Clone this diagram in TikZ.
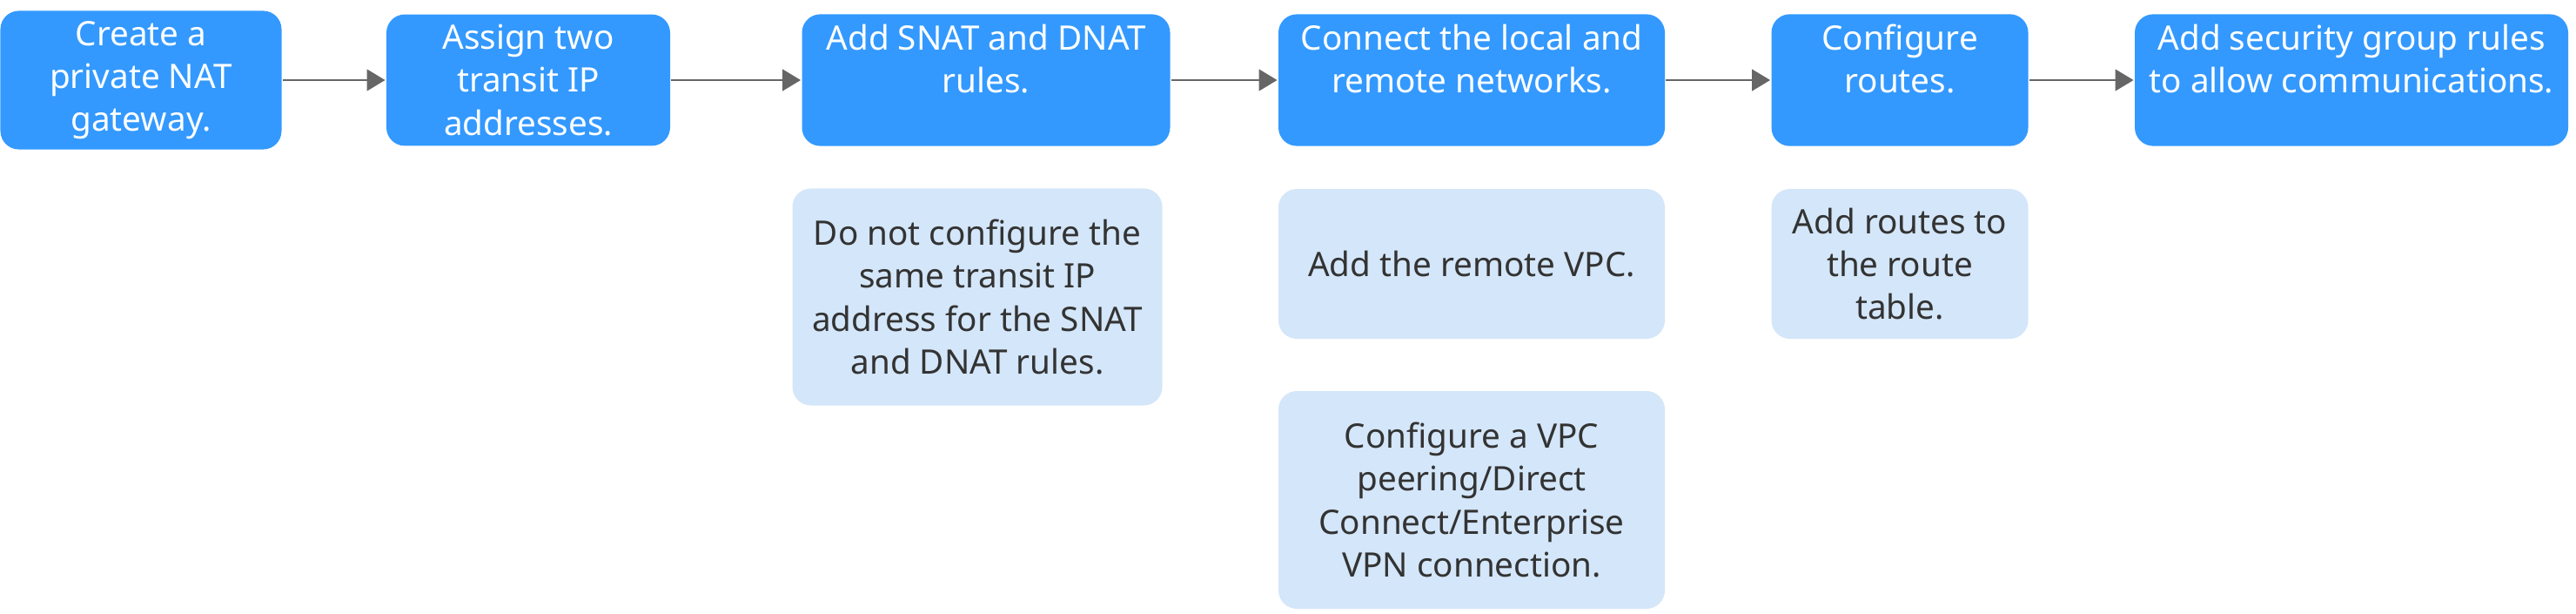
\documentclass[tikz,border=0pt]{standalone}
\usepackage{fontspec}
\setmainfont{Noto Sans}
\usetikzlibrary{positioning}
\usetikzlibrary{arrows.meta}

\begin{document}
\begin{tikzpicture}[>={Triangle[length=6pt,width=7pt]},thick,
	step node/.style={draw=none,fill=stepblue,text=white,rounded corners=6pt,align=center,font=\fontsize{11}{14}\selectfont},
	note node/.style={draw=none,fill=noteblue,text=notegray,rounded corners=6pt,align=center,font=\fontsize{11}{14}\selectfont}]
	
	\definecolor{stepblue}{RGB}{51,153,255}
	\definecolor{noteblue}{RGB}{212,230,249}
	\definecolor{notegray}{RGB}{51,51,51}
	\definecolor{arrowgray}{RGB}{102,102,102}
	
	\useasboundingbox (0,0) rectangle (29.6,7.04);
	
	\node[step node, minimum width=3.23cm, minimum height=1.45cm] (create) at (1.62,6.12) {Create a\\private NAT\\gateway.};
	\node[step node, minimum width=3.26cm, minimum height=1.45cm] (assign) at (6.07,6.12) {Assign two\\transit IP\\addresses.};
	\node[step node, minimum width=4.23cm, minimum height=1.45cm] (rules) at (11.33,6.12) {Add SNAT and DNAT\\rules.\\\mbox{}};
	\node[step node, minimum width=4.44cm, minimum height=1.45cm] (connect) at (16.91,6.12) {Connect the local and\\remote networks.\\\mbox{}};
	\node[step node, minimum width=2.95cm, minimum height=1.45cm] (routes) at (21.83,6.12) {Configure\\routes.\\\mbox{}};
	\node[step node, minimum width=4.98cm, minimum height=1.45cm] (secgroup) at (27.02,6.12) {Add security group rules\\to allow communications.\\\mbox{}};
	
	\node[note node, minimum width=4.25cm, minimum height=2.49cm] (sameip) at (11.23,3.63) {Do not configure the\\same transit IP\\address for the SNAT\\and DNAT rules.};
	\node[note node, minimum width=4.44cm, minimum height=1.72cm] (remotevpc) at (16.91,4.01) {Add the remote VPC.};
	\node[note node, minimum width=4.44cm, minimum height=2.5cm] (peering) at (16.91,1.30) {Configure a VPC\\peering/Direct\\Connect/Enterprise\\VPN connection.};
	\node[note node, minimum width=2.95cm, minimum height=1.72cm] (routetable) at (21.83,4.01) {Add routes to\\the route\\table.};
	
	\path[->,draw=arrowgray,every edge/.style={draw=arrowgray}]
	(create) edge (assign)
	(assign) edge (rules)
	(rules) edge (connect)
	(connect) edge (routes)
	(routes) edge (secgroup);
\end{tikzpicture}
\end{document}
